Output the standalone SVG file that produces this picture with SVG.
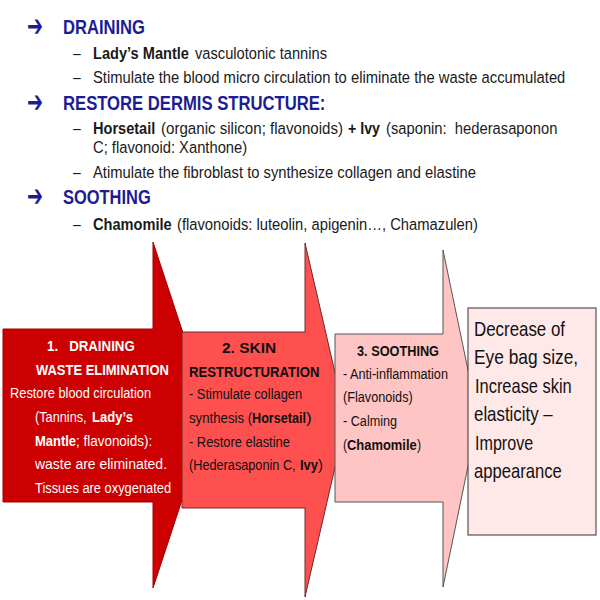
<svg xmlns="http://www.w3.org/2000/svg" width="600" height="600" viewBox="0 0 600 600">
<style>
text{font-family:"Liberation Sans Narrow","Liberation Sans",Arial,sans-serif;white-space:pre}
.h{font-size:21px;font-weight:bold;fill:#1c1c94}
.b{font-size:17px;fill:#1a1a1a}
.bul{font-family:"DejaVu Sans",sans-serif;font-size:30px;font-weight:bold;fill:#1c1c94}
.bx{font-size:15.5px}
.w{fill:#ffffff}
.k{fill:#111111}
.bold{font-weight:bold}
.big{font-size:20.5px;fill:#111111}
</style>
<rect width="600" height="600" fill="#ffffff"/>
<g id="bullets">
<text class="bul" x="27" y="36" textLength="16" lengthAdjust="spacingAndGlyphs">➔</text>
<text class="h" transform="translate(63,34) scale(0.82,1)" textLength="100" lengthAdjust="spacingAndGlyphs">DRAINING</text>
<text class="b" transform="translate(73,59) scale(0.82,1)">–</text>
<text class="b bold" transform="translate(93,59) scale(0.82,1)" textLength="117" lengthAdjust="spacingAndGlyphs">Lady’s Mantle</text>
<text class="b" transform="translate(195,59) scale(0.82,1)" textLength="161" lengthAdjust="spacingAndGlyphs">vasculotonic tannins</text>
<text class="b" transform="translate(73,83) scale(0.82,1)">–</text>
<text class="b" transform="translate(93,83) scale(0.82,1)" textLength="576" lengthAdjust="spacingAndGlyphs">Stimulate the blood micro circulation to eliminate the waste accumulated</text>
<text class="bul" x="27" y="112" textLength="16" lengthAdjust="spacingAndGlyphs">➔</text>
<text class="h" transform="translate(63,110) scale(0.82,1)" textLength="320" lengthAdjust="spacingAndGlyphs">RESTORE DERMIS STRUCTURE:</text>
<text class="b" transform="translate(73,134) scale(0.82,1)">–</text>
<text class="b bold" transform="translate(93,134) scale(0.82,1)" textLength="76" lengthAdjust="spacingAndGlyphs">Horsetail</text>
<text class="b" transform="translate(161,134) scale(0.82,1)" textLength="222" lengthAdjust="spacingAndGlyphs">(organic silicon; flavonoids)</text>
<text class="b bold" transform="translate(348,134) scale(0.82,1)" textLength="39" lengthAdjust="spacingAndGlyphs">+ Ivy</text>
<text class="b" transform="translate(386,134) scale(0.82,1)" textLength="209" lengthAdjust="spacingAndGlyphs">(saponin:  hederasaponon</text>
<text class="b" transform="translate(93,153) scale(0.82,1)" textLength="188" lengthAdjust="spacingAndGlyphs">C; flavonoid: Xanthone)</text>
<text class="b" transform="translate(73,178) scale(0.82,1)">–</text>
<text class="b" transform="translate(93,178) scale(0.82,1)" textLength="467" lengthAdjust="spacingAndGlyphs">Atimulate the fibroblast to synthesize collagen and elastine</text>
<text class="bul" x="27" y="206" textLength="16" lengthAdjust="spacingAndGlyphs">➔</text>
<text class="h" transform="translate(63,204) scale(0.82,1)" textLength="107" lengthAdjust="spacingAndGlyphs">SOOTHING</text>
<text class="b" transform="translate(73,230) scale(0.82,1)">–</text>
<text class="b bold" transform="translate(93,230) scale(0.82,1)" textLength="96" lengthAdjust="spacingAndGlyphs">Chamomile</text>
<text class="b" transform="translate(177,230) scale(0.82,1)" textLength="367" lengthAdjust="spacingAndGlyphs">(flavonoids: luteolin, apigenin…, Chamazulen)</text>
</g>
<g id="connectors"/>
<g id="step1">
<polygon points="3,329 153,329 153,242 210,415 153,588 153,502 3,502" fill="#cc0000" stroke="#a00000" stroke-width="1"/>
<text class="bx w bold" transform="translate(47,351) scale(0.82,1)" textLength="107" lengthAdjust="spacingAndGlyphs">1.   DRAINING</text>
<text class="bx w bold" transform="translate(36,375) scale(0.82,1)" textLength="162" lengthAdjust="spacingAndGlyphs">WASTE ELIMINATION</text>
<text class="bx w" transform="translate(10,398) scale(0.82,1)" textLength="172" lengthAdjust="spacingAndGlyphs">Restore blood circulation</text>
<text class="bx w" transform="translate(35,422) scale(0.82,1)" textLength="63" lengthAdjust="spacingAndGlyphs">(Tannins,</text>
<text class="bx w bold" transform="translate(92,422) scale(0.82,1)" textLength="50" lengthAdjust="spacingAndGlyphs">Lady’s</text>
<text class="bx w bold" transform="translate(35,446) scale(0.82,1)" textLength="50" lengthAdjust="spacingAndGlyphs">Mantle</text>
<text class="bx w" transform="translate(76,446) scale(0.82,1)" textLength="93" lengthAdjust="spacingAndGlyphs">; flavonoids):</text>
<text class="bx w" transform="translate(35,469) scale(0.82,1)" textLength="161" lengthAdjust="spacingAndGlyphs">waste are eliminated.</text>
<text class="bx w" transform="translate(35,493) scale(0.82,1)" textLength="166" lengthAdjust="spacingAndGlyphs">Tissues are oxygenated</text>
</g>
<g id="step2">
<polygon points="182,332 305,332 305,243 346,420 305,597 305,508 182,508" fill="#ff5050" stroke="#6a2a2a" stroke-width="1"/>
<text class="bx k bold" transform="translate(222,353) scale(0.82,1)" textLength="66" lengthAdjust="spacingAndGlyphs">2. SKIN</text>
<text class="bx k bold" transform="translate(189,377) scale(0.82,1)" textLength="159" lengthAdjust="spacingAndGlyphs">RESTRUCTURATION</text>
<text class="bx k" transform="translate(189,399) scale(0.82,1)" textLength="138" lengthAdjust="spacingAndGlyphs">- Stimulate collagen</text>
<text class="bx k" transform="translate(189,423) scale(0.82,1)" textLength="77" lengthAdjust="spacingAndGlyphs">synthesis (</text>
<text class="bx k bold" transform="translate(252,423) scale(0.82,1)" textLength="66" lengthAdjust="spacingAndGlyphs">Horsetail</text>
<text class="bx k" transform="translate(306,423) scale(0.82,1)" textLength="7" lengthAdjust="spacingAndGlyphs">)</text>
<text class="bx k" transform="translate(189,447) scale(0.82,1)" textLength="123" lengthAdjust="spacingAndGlyphs">- Restore elastine</text>
<text class="bx k" transform="translate(189,470) scale(0.82,1)" textLength="130" lengthAdjust="spacingAndGlyphs">(Hederasaponin C,</text>
<text class="bx k bold" transform="translate(300,470) scale(0.82,1)" textLength="22" lengthAdjust="spacingAndGlyphs">Ivy</text>
<text class="bx k" transform="translate(318,470) scale(0.82,1)" textLength="6" lengthAdjust="spacingAndGlyphs">)</text>
</g>
<g id="step3">
<polygon points="335,334 443,334 443,250 478,418 443,587 443,502 335,502" fill="#ffc4c4" stroke="#555555" stroke-width="1"/>
<text class="bx k bold" transform="translate(357,356) scale(0.82,1)" textLength="100" lengthAdjust="spacingAndGlyphs">3. SOOTHING</text>
<text class="bx k" transform="translate(343,379) scale(0.82,1)" textLength="128" lengthAdjust="spacingAndGlyphs">- Anti-inflammation</text>
<text class="bx k" transform="translate(343,402) scale(0.82,1)" textLength="85" lengthAdjust="spacingAndGlyphs">(Flavonoids)</text>
<text class="bx k" transform="translate(343,426) scale(0.82,1)" textLength="66" lengthAdjust="spacingAndGlyphs">- Calming</text>
<text class="bx k" transform="translate(343,450) scale(0.82,1)" textLength="5" lengthAdjust="spacingAndGlyphs">(</text>
<text class="bx k bold" transform="translate(347,450) scale(0.82,1)" textLength="85" lengthAdjust="spacingAndGlyphs">Chamomile</text>
<text class="bx k" transform="translate(417,450) scale(0.82,1)" textLength="5" lengthAdjust="spacingAndGlyphs">)</text>
</g>
<g id="result">
<rect x="468" y="308" width="128" height="227" fill="#ffe8e8" stroke="#333333" stroke-width="1"/>
<text class="big" transform="translate(474,336) scale(0.82,1)" textLength="111" lengthAdjust="spacingAndGlyphs">Decrease of</text>
<text class="big" transform="translate(474,364) scale(0.82,1)" textLength="127" lengthAdjust="spacingAndGlyphs">Eye bag size,</text>
<text class="big" transform="translate(475,393) scale(0.82,1)" textLength="118" lengthAdjust="spacingAndGlyphs">Increase skin</text>
<text class="big" transform="translate(474,421) scale(0.82,1)" textLength="96" lengthAdjust="spacingAndGlyphs">elasticity –</text>
<text class="big" transform="translate(475,450) scale(0.82,1)" textLength="71" lengthAdjust="spacingAndGlyphs">Improve</text>
<text class="big" transform="translate(474,478) scale(0.82,1)" textLength="107" lengthAdjust="spacingAndGlyphs">appearance</text>
</g>
</svg>
